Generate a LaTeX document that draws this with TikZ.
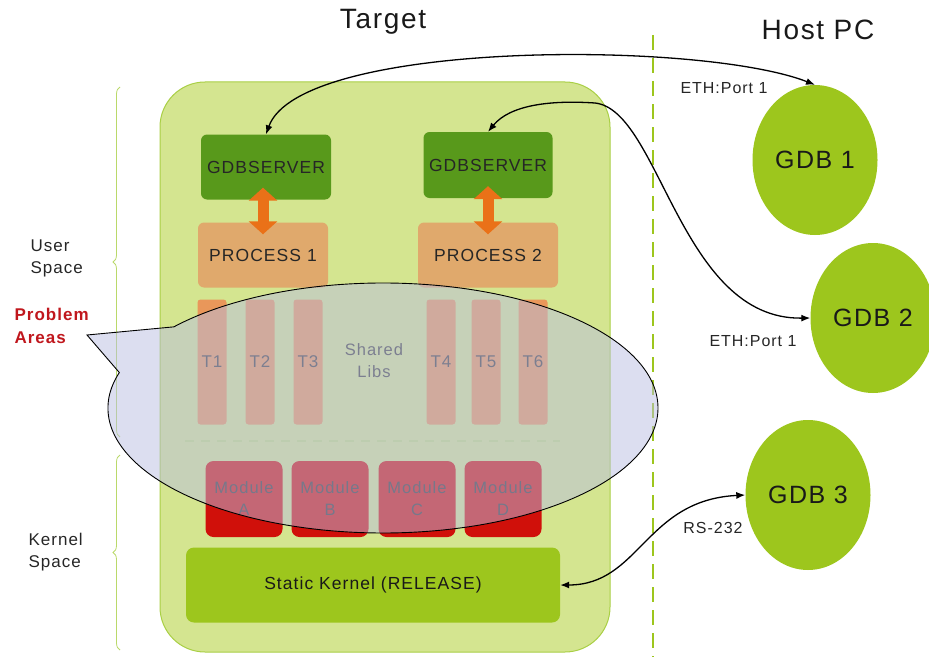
\documentclass[tikz,border=0pt]{standalone}
\usepackage{fontspec}
\setmainfont{Liberation Sans}[LetterSpace=6]
\usetikzlibrary{arrows.meta,shapes.geometric,shapes.callouts,decorations.pathreplacing}
\definecolor{Leaf}{HTML}{D4E590}
\definecolor{LeafEdge}{HTML}{A9CF45}
\definecolor{Lime}{HTML}{9DC61D}
\definecolor{Moss}{HTML}{58991B}
\definecolor{Tan}{HTML}{E0A96C}
\definecolor{Apricot}{HTML}{E9975A}
\definecolor{Carrot}{HTML}{EA7118}
\definecolor{Crimson}{HTML}{D0100A}
\definecolor{Haze}{HTML}{B9BEE1}
\definecolor{Alert}{HTML}{C0171D}
\newcommand{\fsize}[2]{\fontsize{#1}{#2}\selectfont}
\tikzset{zone/.style={draw=LeafEdge,fill=Leaf,rounded corners=45pt,line width=1pt},
server/.style={fill=Moss,rounded corners=6pt,minimum width=130pt,minimum height=65pt,font=\fsize{17.5}{21},text=black!85},
proc/.style={fill=Tan,rounded corners=6pt,minimum height=65pt,font=\fsize{17.5}{21},text=black!85},
thread/.style={fill=Apricot,rounded corners=3pt,minimum width=29pt,minimum height=125pt,inner sep=0pt,font=\fsize{17}{21},text=black!75},
module/.style={fill=Crimson,rounded corners=8pt,minimum width=77pt,minimum height=76pt,inner sep=0pt,align=center,font=\fsize{16.5}{22},text=black!80},
kernel/.style={fill=Lime,rounded corners=8pt,minimum width=374pt,minimum height=75pt,font=\fsize{17.5}{21},text=black!90},
gdb/.style={ellipse,fill=Lime,minimum width=125pt,minimum height=150pt,inner sep=0pt,font=\fsize{25}{28},text=black!90},
heading/.style={font=\fsize{28}{32},text=black!90},
side/.style={anchor=west,align=left,font=\fsize{17}{22},text=black!85},
tag/.style={font=\fsize{16}{18},text=black!85},
bubble/.style={ellipse callout,draw=black,line width=0.9pt,fill=Haze,fill opacity=0.5,inner sep=0pt,minimum width=550pt,minimum height=250pt,callout pointer arc=24},
link/.style={{Latex[length=9pt,width=7pt]}-{Latex[length=9pt,width=7pt]},line width=1.3pt},
push/.style={{Triangle[length=13pt,width=28pt]}-{Triangle[length=13pt,width=28pt]},line width=11pt,draw=Carrot,shorten <=-12pt,shorten >=-12pt},
span/.style={decorate,decoration={brace,amplitude=7pt},draw=LeafEdge!80,line width=0.8pt},
divider/.style={draw=Lime,line width=2.5pt,dash pattern=on 15pt off 8pt},
split/.style={draw=LeafEdge!70,line width=1.2pt,dash pattern=on 9pt off 7pt}}
\begin{document}
\begin{tikzpicture}[x=1pt,y=-1pt]
\useasboundingbox (0,0) rectangle (929,661);
% headings and separator
\node[heading] (tlabel) at (383,22) {Target};
\node[heading] (hlabel) at (818,30) {Host PC};
\draw[divider] (653,35) -- (653,657);
% left side captions
\draw[span] (120,437) -- (120,87);
\draw[span] (120,650) -- (120,455);
\node[side] (user) at (27,258) {User\\Space};
\node[side,text=Alert,font=\fsize{17}{23}\bfseries] (problem) at (11,326) {Problem\\Areas};
\node[side] (kspace) at (25,552) {Kernel\\Space};
% target board
\node[zone,minimum width=450pt,minimum height=570pt] (target) at (385,367) {};
\node[server] (gs1) at (266,167) {GDBSERVER};
\node[server,minimum width=129pt,minimum height=66pt] (gs2) at (488,165) {GDBSERVER};
\node[proc,minimum width=130pt] (p1) at (263,255) {PROCESS 1};
\node[proc,minimum width=140pt] (p2) at (488,255) {PROCESS 2};
\draw[push] (p1.north |- gs1.south) -- (p1.north);
\draw[push] (p2.north |- gs2.south) -- (p2.north);
\foreach \x/\n in {212/1,260/2,308/3,441/4,486/5,533/6}
  \node[thread] (t\n) at (\x,362) {T\n};
\node[align=center,font=\fsize{16.5}{22},text=black!75] (libs) at (374,361) {Shared\\Libs};
\draw[split] (185,441) -- (560,441);
\foreach \x/\m in {244/A,330/B,417/C,503/D}
  \node[module] (mod\m) at (\x,499) {Module\\\m};
\node[kernel] (kernel) at (373,585) {Static Kernel (RELEASE)};
% problem callout
\node[bubble,callout absolute pointer={(87,335)}] (issue) at (383,408) {};
% host side
\node[gdb] (gdb1) at (815,160) {GDB 1};
\node[gdb] (gdb2) at (873,318) {GDB 2};
\node[gdb] (gdb3) at (808,495) {GDB 3};
\node[tag] (eth1) at (724,88) {ETH:Port 1};
\node[tag] (eth2) at (753,341) {ETH:Port 1};
\node[tag] (rs) at (713,528) {RS-232};
% debug links
\draw[link] (gs1.north) .. controls (300,40) and (700,40) .. (gdb1.north);
\draw[link] (gs2.north) .. controls (510,105) and (550,100) .. (595,103)
  .. controls (660,110) and (680,320) .. (gdb2.west);
\draw[link] (kernel.east) .. controls (640,585) and (645,500) .. (gdb3.west);
\end{tikzpicture}
\end{document}
